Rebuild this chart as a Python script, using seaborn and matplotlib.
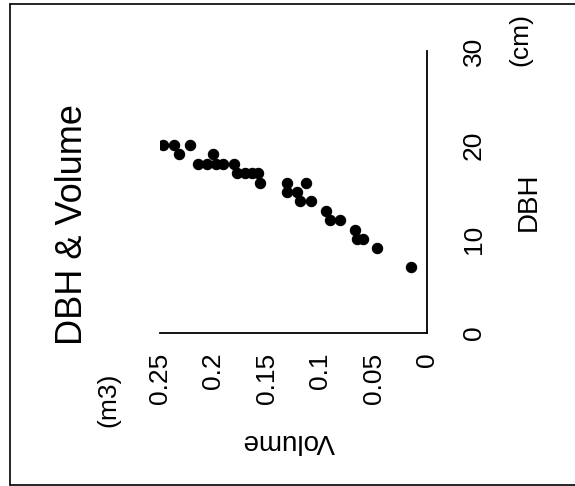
import matplotlib
matplotlib.use("Agg")
import matplotlib.pyplot as plt
from matplotlib.lines import Line2D
import seaborn as sns
import pandas as pd

# ---- data ----
dbh = [20, 20, 19, 20, 18, 18, 19, 18, 18, 18, 17, 17, 17, 17, 16,
       16, 15, 15, 16, 14, 14, 13, 12, 12, 11, 10, 10, 9, 7]
volume = [0.247, 0.237, 0.232, 0.222, 0.214, 0.206, 0.200, 0.198, 0.191,
          0.181, 0.178, 0.170, 0.164, 0.158, 0.156, 0.131, 0.131, 0.122,
          0.113, 0.119, 0.109, 0.095, 0.091, 0.081, 0.067, 0.066, 0.060,
          0.047, 0.015]
vol_ticks = [0.25, 0.2, 0.15, 0.1, 0.05, 0]
vol_labels = ["0.25", "0.2", "0.15", "0.1", "0.05", "0"]
dbh_ticks = [0, 10, 20, 30]
dbh_labels = ["0", "10", "20", "30"]

title = "DBH & Volume"
x_name, x_unit = "DBH", "(cm)"
y_name, y_unit = "Volume", "(m3)"

df = pd.DataFrame({"DBH": dbh, "Volume": volume})

sns.set_style("white")
plt.rcParams["font.family"] = ["Liberation Sans", "DejaVu Sans"]

W, H = 575, 486
fig = plt.figure(figsize=(W / 100, H / 100), dpi=100)
fig.patch.set_facecolor("white")


def fx(x):
    return x / W


def fy(y):
    return 1 - y / H


ax = fig.add_axes([fx(160), fy(333), (427 - 160) / W, (333 - 51) / H])
sns.scatterplot(data=df, x="Volume", y="DBH", ax=ax, color="black",
                edgecolor="black", s=55, linewidth=0.8, legend=False)

ax.set_xlim(0.25, 0)
ax.set_ylim(0, 30)
ax.set_xticks(vol_ticks)
ax.set_xticklabels(vol_labels, rotation=90, fontsize=19)
ax.yaxis.tick_right()
ax.set_yticks(dbh_ticks)
ax.set_yticklabels(dbh_labels, rotation=90, fontsize=19, va="center")
ax.tick_params(axis="x", length=0, pad=14, colors="black")
ax.tick_params(axis="y", length=0, pad=25, colors="black")
ax.set_xlabel("")
ax.set_ylabel("")
for s in ["top", "left"]:
    ax.spines[s].set_visible(False)
for s in ["bottom", "right"]:
    ax.spines[s].set_visible(True)
    ax.spines[s].set_color("black")
    ax.spines[s].set_linewidth(1.3)
ax.set_facecolor("white")

# rotated texts
fig.text(fx(72), fy(225), title, rotation=90, fontsize=26,
         ha="center", va="center", color="black")
fig.text(fx(108), fy(400), y_unit, rotation=90, fontsize=19,
         ha="center", va="center", color="black")
fig.text(fx(289), fy(441), y_name, rotation=180, fontsize=20,
         ha="center", va="center", color="black")
fig.text(fx(529), fy(202), x_name, rotation=90, fontsize=20,
         ha="center", va="center", color="black")
fig.text(fx(520), fy(39), x_unit, rotation=90, fontsize=19,
         ha="center", va="center", color="black")

# scanned frame (left, top, bottom)
kw = dict(transform=fig.transFigure, color="black", linewidth=1.2)
fig.add_artist(Line2D([fx(10), fx(10)], [fy(4), fy(485)], **kw))
fig.add_artist(Line2D([fx(10), fx(575)], [fy(4), fy(4)], **kw))
fig.add_artist(Line2D([fx(10), fx(575)], [fy(485), fy(485)], **kw))

fig.savefig("out.png", dpi=100, facecolor="white")
